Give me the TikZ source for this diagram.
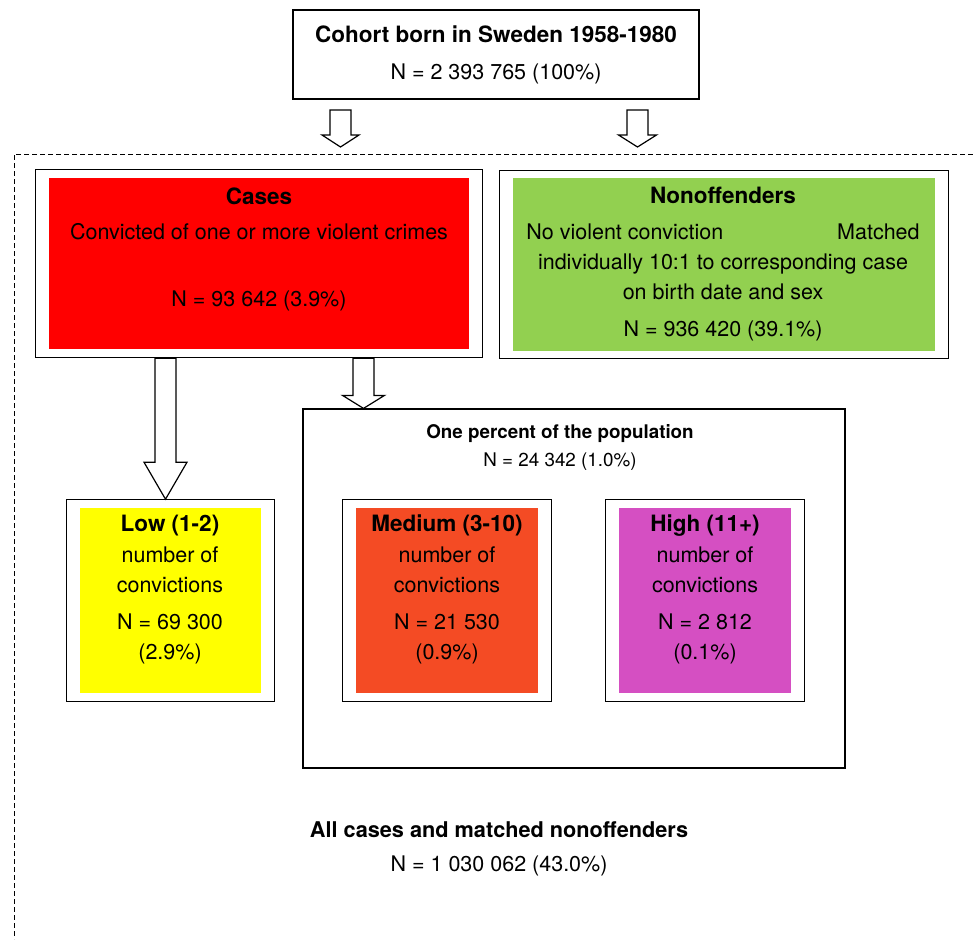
\documentclass[tikz,border=0pt]{standalone}
\usepackage{fontspec}
\setmainfont{TeX Gyre Heros}
\usetikzlibrary{calc,fit}
\definecolor{casered}{RGB}{255,0,0}
\definecolor{nongreen}{RGB}{146,208,80}
\definecolor{lowyellow}{RGB}{255,255,0}
\definecolor{medorange}{RGB}{244,75,36}
\definecolor{highpink}{RGB}{213,79,194}
\newcommand{\hd}[1]{{\fontsize{22.5}{30}\selectfont\bfseries #1}}

\begin{document}
\begin{tikzpicture}[x=1pt,y=-1pt,
	box/.style={draw,line width=1.2pt,inner sep=0pt},
	fillbox/.style={inner sep=0pt},
	frame/.style={draw,line width=1.2pt,inner xsep=13pt,inner ysep=8.5pt},
	txt/.style={inner sep=0pt,anchor=north,align=center,font=\fontsize{21.5}{30}\selectfont},
	blockarrow/.style 2 args={draw,line width=1.2pt,
		to path={let \p1=(\tikztostart),\p2=(\tikztotarget) in
			(\x1-10.5pt,\y1) -- (\x1-10.5pt,\y2+#2) -- (\x1-#1,\y2+#2) -- (\x1,\y2)
			-- (\x1+#1,\y2+#2) -- (\x1+10.5pt,\y2+#2) -- (\x1+10.5pt,\y1) -- cycle}}]
	\useasboundingbox (0,0) rectangle (973,939);
\draw[dash pattern=on 5pt off 3pt,line width=0.8pt] (973,154) -- (14,154) -- (14,939);

\node[box,minimum width=406pt,minimum height=89pt,align=center,font=\fontsize{21.5}{30}\selectfont] (cohort) at (496,54.5) {\hd{Cohort born in Sweden 1958-1980}\\[7pt]N = 2 393 765 (100\%)};

\node[fillbox,fill=casered,minimum width=420pt,minimum height=171pt] (casesbox) at (259,263.5) {};
\node[frame,fit=(casesbox)] (casesframe) {};
\node[txt] (cases) at (259,187.5) {\hd{Cases}\\[5pt]Convicted of one or more violent crimes\\[37pt]N = 93 642 (3.9\%)};

\node[fillbox,fill=nongreen,minimum width=422pt,minimum height=173pt] (nonoffbox) at (724,264.5) {};
\node[frame,inner ysep=7.5pt,fit=(nonoffbox)] (nonoffframe) {};
\node[txt] (nonoff) at (723,187) {\hd{Nonoffenders}\\[6pt]No violent conviction\hspace{114pt}Matched\\individually 10:1 to corresponding case\\on birth date and sex\\[7pt]N = 936 420 (39.1\%)};

\node[box,minimum width=542pt,minimum height=359pt] (pctbox) at (574,588.5) {};
\node[txt,font=\fontsize{18.8}{28}\selectfont] (pct) at (560,424) {\textbf{One percent of the population}\\N = 24 342 (1.0\%)};

\node[fillbox,fill=lowyellow,minimum width=181pt,minimum height=185pt] (lowbox) at (170.5,600.5) {};
\node[frame,inner ysep=8pt,fit=(lowbox)] (lowframe) {};
\node[txt] (low) at (170,515) {\hd{Low (1-2)}\\[1pt]number of\\convictions\\[7pt]N = 69 300\\(2.9\%)};

\node[fillbox,fill=medorange,minimum width=182pt,minimum height=185pt] (medbox) at (447,600.5) {};
\node[frame,inner ysep=8pt,fit=(medbox)] (medframe) {};
\node[txt] (med) at (447,515) {\hd{Medium (3-10)}\\[1pt]number of\\convictions\\[7pt]N = 21 530\\(0.9\%)};

\node[fillbox,fill=highpink,minimum width=172pt,minimum height=185pt] (highbox) at (705,600.5) {};
\node[frame,inner ysep=8pt,fit=(highbox)] (highframe) {};
\node[txt] (high) at (705,515) {\hd{High (11+)}\\[1pt]number of\\convictions\\[7pt]N = 2 812\\(0.1\%)};

\node[txt] (allcases) at (499,821) {{\fontsize{21.7}{30}\selectfont\bfseries All cases and matched nonoffenders}\\[4pt]N = 1 030 062 (43.0\%)};

\coordinate (topleft) at (340.5,110);
\coordinate (topleftend) at (340.5,147);
\coordinate (topright) at (637.5,110);
\coordinate (toprightend) at (637.5,147);
\coordinate (lowx) at (165.5,0);
\coordinate (pctx) at (363.5,0);
\draw[blockarrow={18.5pt}{12pt}] (topleft) to (topleftend);
\draw[blockarrow={19pt}{12pt}] (topright) to (toprightend);
\draw[blockarrow={21.5pt}{37pt}] (casesframe.south -| lowx) to (lowframe.north -| lowx);
\draw[blockarrow={21pt}{13pt}] (casesframe.south -| pctx) to (pctbox.north -| pctx);
	\end{tikzpicture}
\end{document}
